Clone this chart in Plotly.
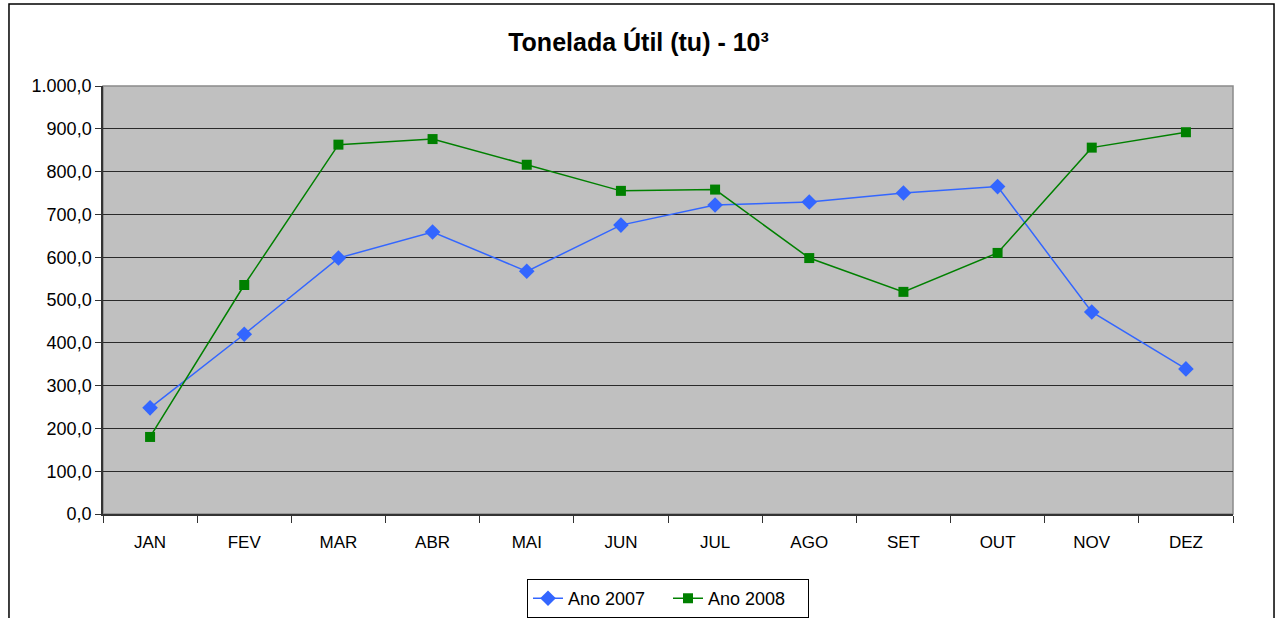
import plotly.graph_objects as go

# Monthly values (10^3 tu)
months = ["JAN", "FEV", "MAR", "ABR", "MAI", "JUN", "JUL", "AGO", "SET", "OUT", "NOV", "DEZ"]
ano_2007 = [248, 420, 598, 659, 567, 675, 722, 729, 750, 765, 472, 339]
ano_2008 = [180, 535, 863, 876, 816, 755, 758, 598, 519, 610, 856, 892]
y_ticks = [0, 100, 200, 300, 400, 500, 600, 700, 800, 900, 1000]

font_family = "Liberation Sans, Arial, sans-serif"

fig = go.Figure()
fig.add_trace(
    go.Scatter(
        x=months,
        y=ano_2007,
        mode="lines+markers",
        name="Ano 2007",
        line=dict(color="#3366FF", width=1.5),
        marker=dict(symbol="diamond", size=12, color="#3366FF"),
    )
)
fig.add_trace(
    go.Scatter(
        x=months,
        y=ano_2008,
        mode="lines+markers",
        name="Ano 2008",
        line=dict(color="#008000", width=1.5),
        marker=dict(symbol="square", size=10, color="#008000"),
    )
)

# plot area frame (grey top/right edge) and outer chart border
fig.add_shape(type="rect", xref="paper", yref="paper", x0=0, x1=1, y0=0, y1=1,
              line=dict(color="#8a8a8a", width=1.5), layer="below")
fig.add_shape(type="rect", xref="paper", yref="paper", x0=-0.0832, x1=1.0363,
              y0=-0.4, y1=1.1916, line=dict(color="black", width=1.5))

fig.update_layout(
    width=1277,
    height=618,
    margin=dict(l=103, r=44, t=86, b=104, autoexpand=False),
    paper_bgcolor="white",
    plot_bgcolor="#C0C0C0",
    separators=",.",
    font=dict(family=font_family, size=16, color="black"),
    title=dict(
        text="<b>Tonelada Útil (tu) - 10³</b>",
        x=0.5,
        xanchor="center",
        y=1 - 42 / 618,
        yanchor="middle",
        font=dict(size=25, family=font_family),
    ),
    xaxis=dict(
        range=[-0.5, 11.5],
        tickson="boundaries",
        ticks="outside",
        ticklen=7,
        tickcolor="#333333",
        ticklabelstandoff=12,
        showgrid=False,
        showline=True,
        linecolor="#333333",
        linewidth=1.5,
        tickfont=dict(size=17),
    ),
    yaxis=dict(
        range=[0, 1000],
        tickvals=y_ticks,
        tickformat=",.1f",
        ticks="outside",
        ticklen=6,
        tickcolor="#333333",
        showgrid=True,
        gridcolor="#2a2a2a",
        gridwidth=1.2,
        zeroline=False,
        showline=True,
        linecolor="#333333",
        linewidth=1.5,
        tickfont=dict(size=18),
    ),
    legend=dict(
        orientation="h",
        x=0.5,
        xanchor="center",
        y=-0.152,
        yanchor="top",
        bordercolor="black",
        borderwidth=1,
        entrywidth=95,
        font=dict(size=18),
    ),
)

# drop the default page margin so the figure sits at the window's corner
fig.write_html(
    "out.html",
    config={"displayModeBar": False},
    post_script="document.body.style.margin='0';",
)
